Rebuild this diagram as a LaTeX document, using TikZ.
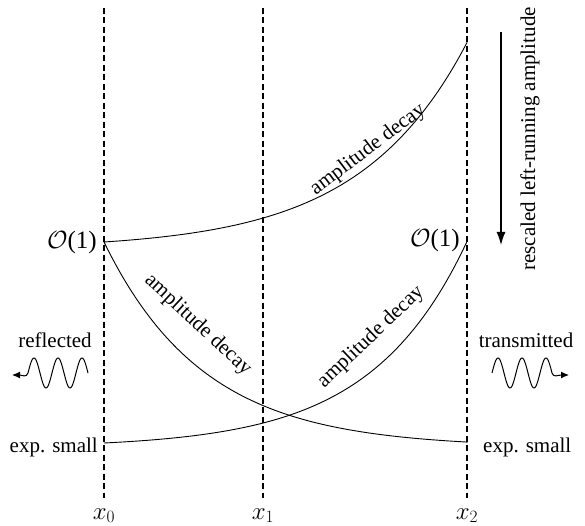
\documentclass[tikz,border=0pt]{standalone}
\usepackage{fontspec}
\setmainfont{Liberation Serif}
\usetikzlibrary{arrows.meta}
\begin{document}
\begin{tikzpicture}[x=1pt,y=1pt,
  lbl/.style={font=\fontsize{21}{25}\selectfont, inner sep=2pt},
  biglbl/.style={font=\fontsize{25}{30}\selectfont, inner sep=2pt},
  xlbl/.style={font=\fontsize{27}{32}\selectfont, inner sep=0pt},
  guide/.style={line width=1.2pt, dash pattern=on 6pt off 3.5pt},
  curve/.style={line width=0.9pt},
  wave/.style={line width=1pt}]
\useasboundingbox (0,0) rectangle (585,525);

% vertical guides
\coordinate (t0) at (104,517); \coordinate (b0) at (104,27);
\coordinate (t1) at (263,517); \coordinate (b1) at (263,27);
\coordinate (t2) at (467,517); \coordinate (b2) at (467,27);
\draw[guide] (t0) -- (b0);
\draw[guide] (t1) -- (b1);
\draw[guide] (t2) -- (b2);
\node[xlbl, anchor=base] (lx0) at (104,6) {$x_0$};
\node[xlbl, anchor=base] (lx1) at (263,6) {$x_1$};
\node[xlbl, anchor=base] (lx2) at (467,6) {$x_2$};

% end points of the curves
\coordinate (A) at (104,283);
\coordinate (B) at (467,483);
\coordinate (C) at (467,82);
\coordinate (D) at (104,82);
\coordinate (E) at (467,283);

% upper curve
\draw[curve] (A) -- plot[domain=104:467, samples=90] (\x, {283+7.08*(exp(0.0093*(\x-104))-1)}) -- (B);
% decreasing curve
\draw[curve] (A) -- plot[domain=104:467, samples=90] (\x, {283-205.5*(1-exp(-0.01*(\x-104)))}) -- (C);
% lower increasing curve
\draw[curve] (D) -- plot[domain=104:467, samples=90] (\x, {82+4.72*(exp(0.0104*(\x-104))-1)}) -- (E);

% curve labels
\node[lbl, rotate=37] (ad1) at (368,375) {amplitude decay};
\node[lbl, rotate=-43] (ad2) at (198,200) {amplitude decay};
\node[lbl, rotate=43.5] (ad3) at (371,188) {amplitude decay};

% side labels
\node[biglbl, anchor=east] (o1l) at (99,283) {$\mathcal{O}$(1)};
\node[biglbl, anchor=east] (o1r) at (462,285) {$\mathcal{O}$(1)};
\node[lbl, anchor=east] (esl) at (100,78) {exp. small};
\node[lbl, anchor=west] (esr) at (481,78) {exp. small};

% rescaled arrow
\coordinate (arT) at (501,493);
\coordinate (arB) at (501,280);
\draw[line width=1.3pt, -{Latex[length=13pt,width=9pt]}] (arT) -- (arB);
\node[lbl, rotate=90] (resc) at (530,386) {rescaled left-running amplitude};

% reflected / transmitted waves
\node[lbl] (refl) at (55,185) {reflected};
\node[lbl] (trans) at (526,185) {transmitted};
\coordinate (wl) at (28,152);
\coordinate (wlt) at (12,150);
\draw[wave, {Latex[length=8pt,width=7pt]}-] (wlt) .. controls (22,150) and (26.5,147) .. (wl)
  -- plot[domain=28:88, samples=80] (\x, {152+15*sin(15*(\x-28))});
\coordinate (wr) at (552,152);
\coordinate (wrt) at (569,150);
\draw[wave, -{Latex[length=8pt,width=7pt]}] plot[domain=492:552, samples=80] (\x, {152+15*sin(15*(\x-492))})
  -- (wr) .. controls (553.5,147) and (558,150) .. (wrt);
\end{tikzpicture}
\end{document}
